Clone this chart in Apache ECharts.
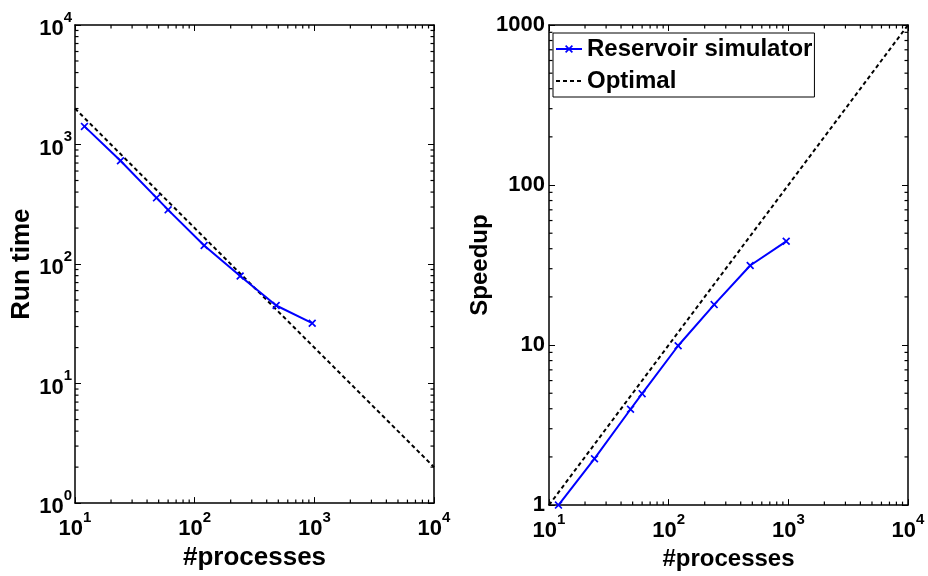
<!DOCTYPE html>
<html>
<head>
<meta charset="utf-8">
<script src="https://cdn.jsdelivr.net/npm/echarts@6/dist/echarts.min.js"></script>
<style>
html, body { margin: 0; padding: 0; background: #fff; }
#chart { width: 928px; height: 576px; }
</style>
</head>
<body>
<div id="chart"></div>
<script>
// data
const processes = [12, 24, 48, 60, 120, 240, 480, 960];
const runTime = [1418, 731, 358, 284, 143, 79.4, 45, 32];
const speedup = [1, 1.95, 3.97, 4.97, 9.9, 17.9, 31.4, 44.5];
const optimalProcs = [10, 10000];
const optimalTime = [2000, 2];
const optimalSpeedup = [1, 1000];
const procRange = [10, 10000];
const timeRange = [1, 10000];
const speedupRange = [1, 1000];

const font = 'Liberation Sans, Arial, sans-serif';
const crossSymbol = 'path://M0,1.5L1.5,0L5,3.5L8.5,0L10,1.5L6.5,5L10,8.5L8.5,10L5,6.5L1.5,10L0,8.5L3.5,5Z';

// 2..9 x 10^k between two powers of ten
function minorTicks(lo, hi) {
  const out = [];
  for (let d = lo; d < hi; d *= 10) {
    for (let k = 2; k <= 9; k++) out.push(d * k);
  }
  return out;
}

const powLabel = {
  show: true,
  formatter: v => '{b|10}{s|' + Math.round(Math.log10(v)) + '}',
  rich: {
    b: { fontFamily: font, fontWeight: 'bold', fontSize: 22, lineHeight: 30, verticalAlign: 'bottom', color: '#000' },
    s: { fontFamily: font, fontWeight: 'bold', fontSize: 15, lineHeight: 12, verticalAlign: 'top', color: '#000' }
  }
};

function axis(grid, position, range, extra) {
  return Object.assign({
    type: 'log', logBase: 10, gridIndex: grid, position: position,
    min: range[0], max: range[1],
    axisLine: { show: true, onZero: false, lineStyle: { color: '#000', width: 1.5 } },
    axisTick: { show: true, inside: true, length: 6, lineStyle: { color: '#000', width: 1 } },
    axisLabel: { show: false },
    splitLine: { show: false },
    minorTick: { show: false }
  }, extra || {});
}

const nameStyle = size => ({ fontFamily: font, fontWeight: 'bold', fontSize: size, color: '#000' });

const xAxes = [
  axis(0, 'bottom', procRange, {
    axisLabel: Object.assign({ margin: 7 }, powLabel),
    name: '#processes', nameLocation: 'middle', nameGap: 39, nameTextStyle: nameStyle(26)
  }),
  axis(0, 'top', procRange),
  axis(1, 'bottom', procRange, {
    axisLabel: Object.assign({ margin: 7 }, powLabel),
    name: '#processes', nameLocation: 'middle', nameGap: 39, nameTextStyle: nameStyle(24)
  }),
  axis(1, 'top', procRange)
];

const yAxes = [
  axis(0, 'left', timeRange, {
    axisLabel: Object.assign({ margin: 3 }, powLabel),
    name: 'Run time', nameLocation: 'middle', nameGap: 37, nameRotate: 90, nameTextStyle: nameStyle(26)
  }),
  axis(0, 'right', timeRange),
  axis(1, 'left', speedupRange, {
    axisLabel: {
      show: true, margin: 4, formatter: v => String(Math.round(v)),
      fontFamily: font, fontWeight: 'bold', fontSize: 22, color: '#000'
    },
    name: 'Speedup', nameLocation: 'middle', nameGap: 57, nameRotate: 90, nameTextStyle: nameStyle(24)
  }),
  axis(1, 'right', speedupRange)
];

const pairs = (xs, ys) => xs.map((x, i) => [x, ys[i]]);

const simLine = (ai, ys) => ({
  name: 'Reservoir simulator', type: 'line', xAxisIndex: ai, yAxisIndex: ai,
  data: pairs(processes, ys),
  symbol: crossSymbol, symbolSize: 8, showSymbol: true,
  color: '#0000ff', lineStyle: { color: '#0000ff', width: 2 },
  itemStyle: { color: '#0000ff' }, z: 3, clip: false
});
const optLine = (ai, ys) => ({
  name: 'Optimal', type: 'line', xAxisIndex: ai, yAxisIndex: ai,
  data: pairs(optimalProcs, ys),
  symbol: 'none', color: '#000',
  lineStyle: { color: '#000', width: 2, type: [4, 3] }, z: 2
});

// short inward minor ticks on the four sides, drawn as tiny rect markers
function tickMarks(ai, data, size, offset) {
  return {
    type: 'scatter', xAxisIndex: ai, yAxisIndex: ai, silent: true, clip: false, z: 4,
    symbol: 'rect', symbolSize: size, symbolOffset: offset,
    itemStyle: { color: '#000', opacity: 1 },
    emphasis: { disabled: true },
    data: data
  };
}
function minorTickSeries(ai, xr, yr) {
  const xm = minorTicks(xr[0], xr[1]);
  const ym = minorTicks(yr[0], yr[1]);
  return [
    tickMarks(ai, xm.map(v => [v, yr[0]]), [1.2, 3.5], [0, -1.75]),
    tickMarks(ai, xm.map(v => [v, yr[1]]), [1.2, 3.5], [0, 1.75]),
    tickMarks(ai, ym.map(v => [xr[0], v]), [3.5, 1.2], [1.75, 0]),
    tickMarks(ai, ym.map(v => [xr[1], v]), [3.5, 1.2], [-1.75, 0])
  ];
}

const chart = echarts.init(document.getElementById('chart'), null, { renderer: 'canvas' });
chart.setOption({
  animation: false,
  backgroundColor: '#fff',
  grid: [
    { left: 75, top: 25, width: 359, height: 487 },
    { left: 549, top: 25, width: 359, height: 487 }
  ],
  xAxis: xAxes,
  yAxis: yAxes,
  legend: {
    data: ['Reservoir simulator', { name: 'Optimal', itemStyle: { opacity: 0 } }],
    orient: 'vertical', left: 553, top: 33,
    backgroundColor: '#fff', borderColor: '#000', borderWidth: 1,
    padding: [4, 2, 4, 2], itemGap: 8, itemWidth: 26, itemHeight: 10,
    textStyle: { fontFamily: font, fontWeight: 'bold', fontSize: 24, color: '#000' }
  },
  series: [
    optLine(0, optimalTime),
    simLine(0, runTime),
    optLine(2, optimalSpeedup),
    simLine(2, speedup)
  ].concat(minorTickSeries(0, procRange, timeRange), minorTickSeries(2, procRange, speedupRange))
});
</script>
</body>
</html>
